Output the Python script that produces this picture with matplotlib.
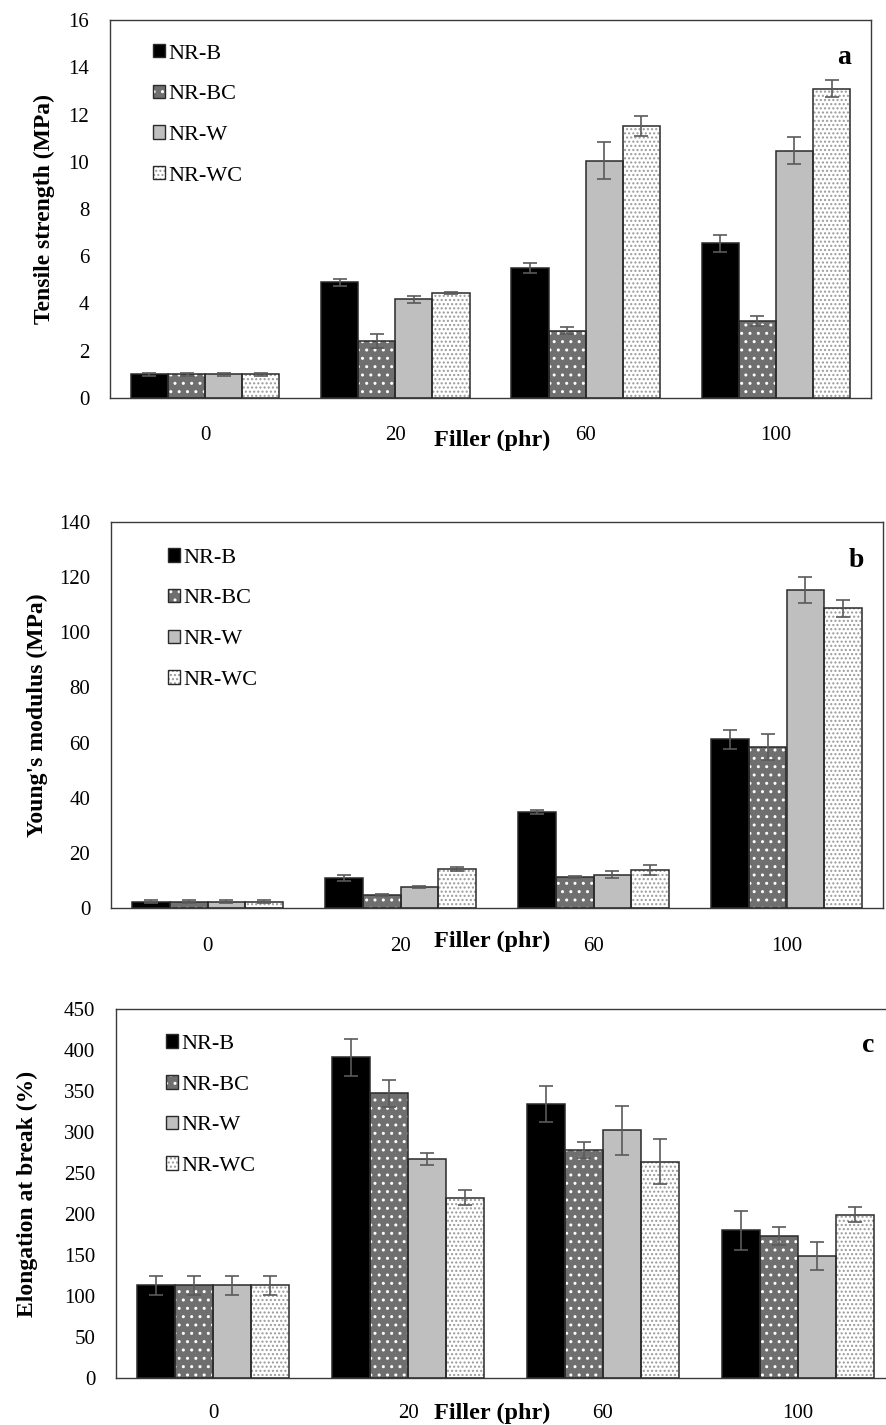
import matplotlib
matplotlib.use("Agg")
import matplotlib.pyplot as plt
from matplotlib.patches import Patch
import numpy as np

plt.rcParams['font.family'] = ['Liberation Serif', 'DejaVu Serif']
plt.rcParams['hatch.linewidth'] = 1.0

# categories and series
filler = ['0', '20', '60', '100']
series = ['NR-B', 'NR-BC', 'NR-W', 'NR-WC']

# panel a - tensile strength (MPa)
ts_B = [1.0, 4.9, 5.5, 6.55]
ts_BC = [1.0, 2.42, 2.84, 3.26]
ts_W = [1.0, 4.18, 10.05, 10.47]
ts_WC = [1.0, 4.44, 11.53, 13.09]
ts_B_err = [0.05, 0.15, 0.2, 0.36]
ts_BC_err = [0.05, 0.3, 0.15, 0.2]
ts_W_err = [0.05, 0.15, 0.8, 0.58]
ts_WC_err = [0.05, 0.05, 0.42, 0.37]

# panel b - Young's modulus (MPa)
ym_B = [2.3, 10.9, 34.8, 61.2]
ym_BC = [2.3, 4.7, 11.2, 58.4]
ym_W = [2.3, 7.6, 12.0, 115.3]
ym_WC = [2.3, 14.1, 13.8, 108.7]
ym_B_err = [0.5, 1.2, 0.8, 3.5]
ym_BC_err = [0.5, 0.3, 0.5, 4.6]
ym_W_err = [0.5, 0.5, 1.3, 4.6]
ym_WC_err = [0.5, 0.8, 1.8, 3.0]

# panel c - elongation at break (%)
eb_B = [113, 391, 334, 180]
eb_BC = [113, 347, 278, 173]
eb_W = [113, 267, 302, 149]
eb_WC = [113, 220, 264, 199]
eb_B_err = [12, 23, 22, 24]
eb_BC_err = [12, 16, 10, 11]
eb_W_err = [12, 7, 30, 17]
eb_WC_err = [12, 9, 27, 9]

faces = ['black', '#6f6f6f', '#bfbfbf', 'white']
dots = ['black', 'white', '#bfbfbf', '#9a9a9a']
hatches = [None, '..', None, '....']
outline = '#2a2a2a'
errc = '#5a5a5a'

W, H = 886, 1425
fig = plt.figure(figsize=(W / 100, H / 100), dpi=100)


def panel(rect, vals, errs, ymax, ystep, ylabel, letter, leg_xy, tick_pad, xl_y, ylab_x):
    ax = fig.add_axes(rect)
    x = np.arange(len(filler))
    w = 0.195
    for i in range(4):
        pos = x + (i - 1.5) * w
        ax.bar(pos, vals[i], w, color=faces[i], hatch=hatches[i],
               edgecolor=dots[i], linewidth=0, zorder=2)
        ax.bar(pos, vals[i], w, fill=False, edgecolor=outline, linewidth=1.1, zorder=3)
        ax.errorbar(pos, vals[i], yerr=errs[i], fmt='none', ecolor=errc,
                    elinewidth=1.2, capsize=5, capthick=1.2, zorder=4)
    ax.set_xlim(-0.5, 3.5)
    ax.set_ylim(0, ymax)
    ax.set_yticks(np.arange(0, ymax + ystep / 2, ystep))
    ax.set_xticks(x)
    ax.set_xticklabels(filler)
    ax.tick_params(axis='y', length=0, pad=15, labelsize=15)
    ax.tick_params(axis='x', length=0, pad=tick_pad, labelsize=15)
    for s in ax.spines.values():
        s.set_color('#3a3a3a')
        s.set_linewidth(1.0)
    ax.set_ylabel(ylabel, fontsize=17, fontweight='bold')
    ax.yaxis.set_label_coords(ylab_x, 0.5)
    ax.text(0.965, 0.9, letter, transform=ax.transAxes, fontsize=20,
            fontweight='bold', ha='center', va='center')
    handles = []
    for i in range(4):
        handles.append((Patch(facecolor=faces[i], hatch=hatches[i], edgecolor=dots[i], linewidth=0),
                        Patch(fill=False, edgecolor=outline, linewidth=1.0)))
    ax.legend(handles, series, loc='upper left', bbox_to_anchor=leg_xy, frameon=False,
              fontsize=16, handlelength=0.55, handleheight=0.55, handletextpad=0.15,
              labelspacing=0.95, borderaxespad=0)
    fig.text(0.555, xl_y, 'Filler (phr)', fontsize=17.5, fontweight='bold',
             ha='center', va='center')
    return ax


panel([110 / W, 1 - 398 / H, 761 / W, 378 / H],
      [ts_B, ts_BC, ts_W, ts_WC], [ts_B_err, ts_BC_err, ts_W_err, ts_WC_err],
      16, 2, 'Tensile strength (MPa)', 'a', (0.045, 0.96), 20, 1 - 440 / H, -0.072)

panel([111 / W, 1 - 908 / H, 772 / W, 386 / H],
      [ym_B, ym_BC, ym_W, ym_WC], [ym_B_err, ym_BC_err, ym_W_err, ym_WC_err],
      140, 20, "Young's modulus (MPa)", 'b', (0.062, 0.955), 21, 1 - 941 / H, -0.082)

panel([116 / W, 1 - 1378 / H, 779 / W, 369 / H],
      [eb_B, eb_BC, eb_W, eb_WC], [eb_B_err, eb_BC_err, eb_W_err, eb_WC_err],
      450, 50, 'Elongation at break (%)', 'c', (0.053, 0.955), 19, 1 - 1413 / H, -0.1)

fig.savefig('out.png', dpi=100)
